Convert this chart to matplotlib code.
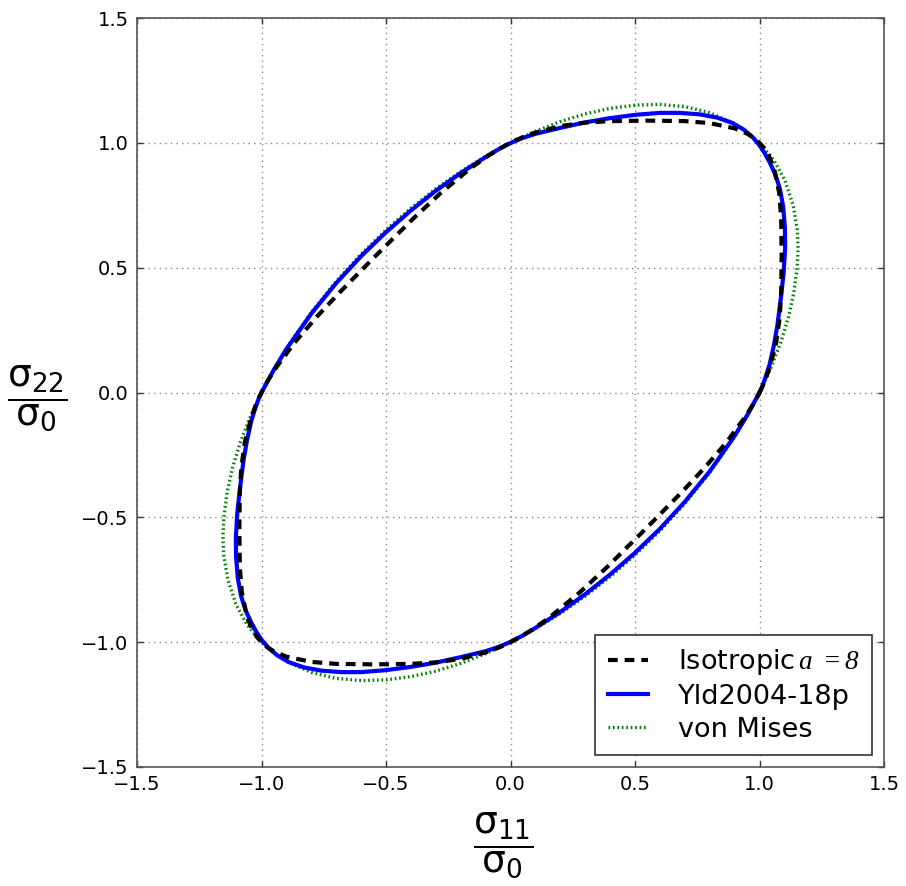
import matplotlib
matplotlib.use("Agg")
import matplotlib.pyplot as plt
from matplotlib.font_manager import FontProperties

plt.rcParams['font.family'] = ['DejaVu Sans']
plt.rcParams['mathtext.fontset'] = 'custom'
plt.rcParams['mathtext.rm'] = 'Liberation Serif:italic'
plt.rcParams['mathtext.it'] = 'Liberation Serif:italic'
plt.rcParams['mathtext.bf'] = 'Liberation Serif:bold'
plt.rcParams['lines.scale_dashes'] = False

# Isotropic (Hosford a=8) yield locus
iso_x = [1.000, 1.010, 1.023, 1.041, 1.067, 1.081, 1.087, 1.089, 1.087, 1.079, 1.058, 1.037, 1.018, 1.009, 1.000,
         0.990, 0.980, 0.950, 0.900, 0.800, 0.700, 0.545, 0.400, 0.300, 0.200, 0.100, 0.050, 0.020, 0.000,
         -0.019, -0.038, -0.087, -0.158, -0.279, -0.387, -0.544, -0.687, -0.781, -0.867, -0.941, -0.973, -0.990, -1.000,
         -1.010, -1.023, -1.041, -1.067, -1.081, -1.087, -1.089, -1.087, -1.079, -1.058, -1.037, -1.018, -1.009, -1.000,
         -0.990, -0.980, -0.950, -0.900, -0.800, -0.700, -0.545, -0.400, -0.300, -0.200, -0.100, -0.050, -0.020, 0.000,
         0.019, 0.038, 0.087, 0.158, 0.279, 0.387, 0.544, 0.687, 0.781, 0.867, 0.941, 0.973, 0.990, 1.000]
iso_y = [0.000, 0.020, 0.050, 0.100, 0.200, 0.300, 0.400, 0.545, 0.700, 0.800, 0.900, 0.950, 0.980, 0.990, 1.000,
         1.009, 1.018, 1.037, 1.058, 1.079, 1.087, 1.089, 1.087, 1.081, 1.067, 1.041, 1.023, 1.010, 1.000,
         0.990, 0.980, 0.950, 0.900, 0.800, 0.700, 0.545, 0.400, 0.300, 0.200, 0.100, 0.050, 0.020, 0.000,
         -0.020, -0.050, -0.100, -0.200, -0.300, -0.400, -0.545, -0.700, -0.800, -0.900, -0.950, -0.980, -0.990, -1.000,
         -1.009, -1.018, -1.037, -1.058, -1.079, -1.087, -1.089, -1.087, -1.081, -1.067, -1.041, -1.023, -1.010, -1.000,
         -0.990, -0.980, -0.950, -0.900, -0.800, -0.700, -0.545, -0.400, -0.300, -0.200, -0.100, -0.050, -0.020, 0.000]

# Yld2004-18p yield locus
yld_x = [1.000, 1.011, 1.024, 1.040, 1.058, 1.072, 1.086, 1.097, 1.103, 1.102, 1.095, 1.082, 1.064, 1.042, 1.020, 0.998,
         0.970, 0.935, 0.890, 0.830, 0.760, 0.680, 0.600, 0.500, 0.400, 0.300, 0.200, 0.100, 0.050,
         0.000, -0.050, -0.100, -0.200, -0.300, -0.400, -0.500, -0.600, -0.700, -0.800, -0.900, -0.950,
         -1.000, -1.011, -1.024, -1.040, -1.058, -1.072, -1.086, -1.097, -1.103, -1.102, -1.095, -1.082, -1.064, -1.042, -1.020, -0.998,
         -0.970, -0.935, -0.890, -0.830, -0.760, -0.680, -0.600, -0.500, -0.400, -0.300, -0.200, -0.100, -0.050,
         0.000, 0.050, 0.100, 0.200, 0.300, 0.400, 0.500, 0.600, 0.700, 0.800, 0.900, 0.950, 1.000]
yld_y = [0.000, 0.024, 0.060, 0.110, 0.190, 0.270, 0.380, 0.480, 0.580, 0.660, 0.745, 0.815, 0.872, 0.920, 0.960, 0.993,
         1.025, 1.054, 1.080, 1.101, 1.114, 1.120, 1.120, 1.112, 1.099, 1.082, 1.060, 1.036, 1.020,
         0.999, 0.973, 0.943, 0.879, 0.808, 0.729, 0.642, 0.546, 0.438, 0.316, 0.174, 0.092,
         0.000, -0.024, -0.060, -0.110, -0.190, -0.270, -0.380, -0.480, -0.580, -0.660, -0.745, -0.815, -0.872, -0.920, -0.960, -0.993,
         -1.025, -1.054, -1.080, -1.101, -1.114, -1.120, -1.120, -1.112, -1.099, -1.082, -1.060, -1.036, -1.020,
         -0.999, -0.973, -0.943, -0.879, -0.808, -0.729, -0.642, -0.546, -0.438, -0.316, -0.174, -0.092, 0.000]

# von Mises yield locus
vm_x = [1.000, 1.046, 1.085, 1.116, 1.138, 1.151, 1.155, 1.152, 1.135, 1.102, 1.058,
        1.000, 0.950, 0.900, 0.800, 0.700, 0.600, 0.500, 0.400, 0.300, 0.200, 0.100,
        0.000, -0.050, -0.100, -0.200, -0.300, -0.400, -0.500, -0.600, -0.700, -0.800, -0.900, -0.950,
        -1.000, -1.046, -1.085, -1.116, -1.138, -1.151, -1.155, -1.152, -1.135, -1.102, -1.058,
        -1.000, -0.950, -0.900, -0.800, -0.700, -0.600, -0.500, -0.400, -0.300, -0.200, -0.100,
        0.000, 0.050, 0.100, 0.200, 0.300, 0.400, 0.500, 0.600, 0.700, 0.800, 0.900, 0.950, 1.000]
vm_y = [0.000, 0.100, 0.200, 0.300, 0.400, 0.500, 0.577, 0.650, 0.750, 0.850, 0.930,
        1.000, 1.044, 1.077, 1.121, 1.145, 1.154, 1.151, 1.138, 1.116, 1.085, 1.046,
        1.000, 0.974, 0.946, 0.885, 0.816, 0.738, 0.651, 0.554, 0.445, 0.321, 0.177, 0.093,
        0.000, -0.100, -0.200, -0.300, -0.400, -0.500, -0.577, -0.650, -0.750, -0.850, -0.930,
        -1.000, -1.044, -1.077, -1.121, -1.145, -1.154, -1.151, -1.138, -1.116, -1.085, -1.046,
        -1.000, -0.974, -0.946, -0.885, -0.816, -0.738, -0.651, -0.554, -0.445, -0.321, -0.177, -0.093, 0.000]

ticks = [-1.5, -1.0, -0.5, 0.0, 0.5, 1.0, 1.5]
tick_labels = ['\u22121.5', '\u22121.0', '\u22120.5', '0.0', '0.5', '1.0', '1.5']
legend_labels = [r'Isotropic$\,a\ =8$', 'Yld2004-18p', 'von Mises']

fig = plt.figure(figsize=(9.06, 8.86), dpi=100)
ax = fig.add_axes([137/906, 1-767/886, (884-137)/906, (767-18)/886])

l_vm, = ax.plot(vm_x, vm_y, color=(0, 0.5, 0), lw=2.4, dashes=(1.2, 2.0), zorder=2)
l_yld, = ax.plot(yld_x, yld_y, color=(0, 0, 1), lw=3.0, zorder=3)
l_iso, = ax.plot(iso_x, iso_y, color='black', lw=3.0, dashes=(7, 5), zorder=4)

ax.set_xlim(-1.5, 1.5)
ax.set_ylim(-1.5, 1.5)
ax.set_xticks(ticks)
ax.set_yticks(ticks)
ax.set_xticklabels(tick_labels)
ax.set_yticklabels(tick_labels)
ax.tick_params(direction='in', length=4, width=1, labelsize=14, top=True, right=True, pad=6, color='#333333')
ax.grid(True, color='#888888', linestyle=(0, (1, 3)), linewidth=1)
for s in ax.spines.values():
    s.set_color('#555555')
    s.set_linewidth(1.2)

ax.set_xlabel(r'$\dfrac{\mathrm{\sigma}_{11}}{\mathrm{\sigma}_0}$', fontsize=27,
              math_fontfamily='dejavusans', va='center')
ax.set_ylabel(r'$\dfrac{\mathrm{\sigma}_{22}}{\mathrm{\sigma}_0}$', fontsize=27, rotation=0,
              math_fontfamily='dejavusans', va='center', ha='center')
ax.xaxis.set_label_coords(0.49, -0.104)
ax.yaxis.set_label_coords(-0.134, 0.4927)

leg = ax.legend([l_iso, l_yld, l_vm], legend_labels,
                loc='lower right', prop=FontProperties(size=19.5, math_fontfamily='custom'),
                handlelength=1.5, handletextpad=1.1,
                labelspacing=0.25, borderpad=0.45, fancybox=False, framealpha=1,
                borderaxespad=0.45)
leg.get_frame().set_edgecolor('#333333')
leg.get_frame().set_linewidth(1.2)

fig.savefig('out.png', dpi=100)
